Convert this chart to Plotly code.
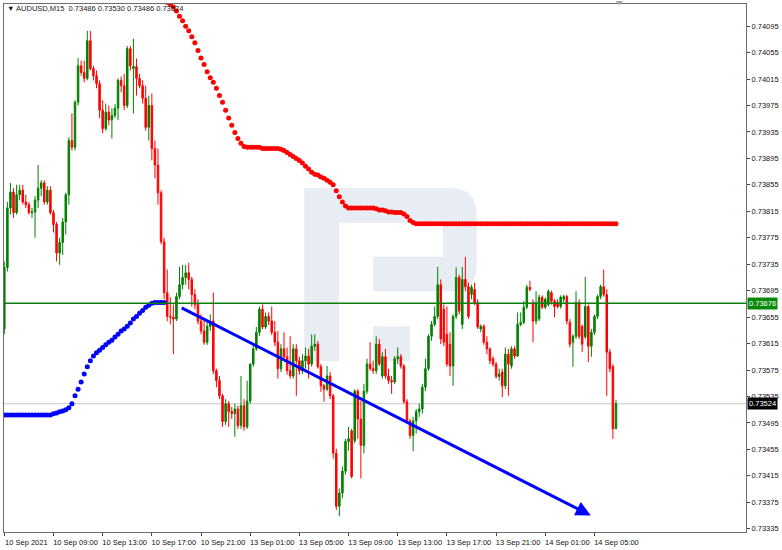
import plotly.graph_objects as go

# ---------------- data ----------------
bar_open = [
    0.73637, 0.73730, 0.73820, 0.73844, 0.73813, 0.73840, 0.73847, 0.73829, 0.73825, 0.73813,
    0.73814, 0.73832, 0.73850, 0.73858, 0.73829, 0.73847, 0.73813, 0.73795, 0.73752, 0.73768,
    0.73799, 0.73840, 0.73922, 0.73912, 0.73980, 0.74035, 0.74025, 0.74016, 0.74073, 0.74031,
    0.74020, 0.74008, 0.73968, 0.73940, 0.73965, 0.73953, 0.73960, 0.73971, 0.74013, 0.74005,
    0.73975, 0.74061, 0.74031, 0.74034, 0.74016, 0.74005, 0.73986, 0.73942, 0.73975, 0.73910,
    0.73885, 0.73843, 0.73769, 0.73692, 0.73656, 0.73655, 0.73652, 0.73686, 0.73704, 0.73715,
    0.73722, 0.73712, 0.73689, 0.73674, 0.73649, 0.73634, 0.73617, 0.73641, 0.73649, 0.73574,
    0.73559, 0.73536, 0.73497, 0.73524, 0.73512, 0.73509, 0.73516, 0.73491, 0.73521, 0.73489,
    0.73528, 0.73584, 0.73607, 0.73632, 0.73667, 0.73640, 0.73656, 0.73649, 0.73632, 0.73617,
    0.73577, 0.73607, 0.73595, 0.73574, 0.73566, 0.73607, 0.73589, 0.73574, 0.73589, 0.73596,
    0.73584, 0.73611, 0.73614, 0.73580, 0.73551, 0.73546, 0.73566, 0.73536, 0.73449, 0.73369,
    0.73389, 0.73422, 0.73467, 0.73483, 0.73468, 0.73543, 0.73501, 0.73461, 0.73543, 0.73584,
    0.73577, 0.73574, 0.73614, 0.73566, 0.73595, 0.73566, 0.73559, 0.73557, 0.73592, 0.73595,
    0.73581, 0.73527, 0.73498, 0.73476, 0.73498, 0.73512, 0.73516, 0.73549, 0.73577, 0.73626,
    0.73644, 0.73656, 0.73704, 0.73667, 0.73629, 0.73614, 0.73581, 0.73656, 0.73715, 0.73644,
    0.73712, 0.73701, 0.73689, 0.73697, 0.73677, 0.73637, 0.73641, 0.73617, 0.73607, 0.73592,
    0.73584, 0.73565, 0.73572, 0.73551, 0.73599, 0.73581, 0.73607, 0.73596, 0.73644, 0.73647,
    0.73670, 0.73700, 0.73677, 0.73649, 0.73652, 0.73685, 0.73670, 0.73674, 0.73692, 0.73679,
    0.73677, 0.73671, 0.73682, 0.73686, 0.73647, 0.73617, 0.73626, 0.73677, 0.73641, 0.73625,
    0.73671, 0.73611, 0.73632, 0.73656, 0.73686, 0.73701, 0.73689, 0.73602, 0.73580, 0.73486,
]
bar_high = [
    0.73739, 0.73829, 0.73858, 0.73850, 0.73855, 0.73855, 0.73855, 0.73840, 0.73829, 0.73820,
    0.73838, 0.73885, 0.73862, 0.73862, 0.73853, 0.73853, 0.73817, 0.73799, 0.73775, 0.73805,
    0.73843, 0.73927, 0.73963, 0.73983, 0.74047, 0.74043, 0.74043, 0.74088, 0.74088, 0.74035,
    0.74028, 0.74013, 0.73983, 0.73978, 0.73975, 0.73971, 0.73977, 0.74016, 0.74019, 0.74023,
    0.74065, 0.74065, 0.74076, 0.74046, 0.74023, 0.74013, 0.74005, 0.73990, 0.73993, 0.73922,
    0.73910, 0.73847, 0.73775, 0.73727, 0.73685, 0.73674, 0.73692, 0.73731, 0.73734, 0.73734,
    0.73737, 0.73716, 0.73697, 0.73682, 0.73659, 0.73649, 0.73649, 0.73659, 0.73692, 0.73577,
    0.73566, 0.73539, 0.73531, 0.73528, 0.73519, 0.73524, 0.73521, 0.73566, 0.73531, 0.73559,
    0.73584, 0.73614, 0.73640, 0.73671, 0.73674, 0.73662, 0.73662, 0.73671, 0.73649, 0.73634,
    0.73614, 0.73632, 0.73609, 0.73626, 0.73614, 0.73614, 0.73595, 0.73599, 0.73609, 0.73607,
    0.73629, 0.73629, 0.73619, 0.73584, 0.73554, 0.73581, 0.73572, 0.73539, 0.73456, 0.73396,
    0.73429, 0.73471, 0.73489, 0.73486, 0.73546, 0.73546, 0.73528, 0.73554, 0.73592, 0.73617,
    0.73589, 0.73626, 0.73622, 0.73602, 0.73607, 0.73577, 0.73566, 0.73596, 0.73609, 0.73599,
    0.73584, 0.73531, 0.73501, 0.73504, 0.73516, 0.73524, 0.73554, 0.73592, 0.73629, 0.73649,
    0.73671, 0.73731, 0.73712, 0.73674, 0.73671, 0.73632, 0.73659, 0.73730, 0.73719, 0.73731,
    0.73746, 0.73707, 0.73704, 0.73707, 0.73682, 0.73644, 0.73644, 0.73626, 0.73609, 0.73596,
    0.73587, 0.73577, 0.73577, 0.73609, 0.73607, 0.73611, 0.73611, 0.73662, 0.73662, 0.73679,
    0.73704, 0.73710, 0.73682, 0.73694, 0.73689, 0.73688, 0.73685, 0.73697, 0.73695, 0.73682,
    0.73682, 0.73688, 0.73689, 0.73689, 0.73652, 0.73629, 0.73694, 0.73682, 0.73644, 0.73716,
    0.73674, 0.73637, 0.73659, 0.73689, 0.73704, 0.73727, 0.73697, 0.73607, 0.73584, 0.73530,
]
bar_low = [
    0.73629, 0.73724, 0.73810, 0.73805, 0.73810, 0.73832, 0.73825, 0.73820, 0.73810, 0.73805,
    0.73775, 0.73820, 0.73838, 0.73825, 0.73825, 0.73810, 0.73783, 0.73739, 0.73734, 0.73749,
    0.73780, 0.73825, 0.73907, 0.73907, 0.73975, 0.74020, 0.74010, 0.74013, 0.74028, 0.74013,
    0.74001, 0.73956, 0.73933, 0.73937, 0.73945, 0.73925, 0.73956, 0.73953, 0.73995, 0.73968,
    0.73971, 0.74028, 0.73963, 0.73990, 0.74001, 0.73978, 0.73937, 0.73922, 0.73892, 0.73865,
    0.73825, 0.73765, 0.73682, 0.73649, 0.73644, 0.73599, 0.73649, 0.73682, 0.73697, 0.73704,
    0.73697, 0.73671, 0.73667, 0.73644, 0.73629, 0.73613, 0.73613, 0.73634, 0.73569, 0.73549,
    0.73531, 0.73489, 0.73492, 0.73489, 0.73501, 0.73474, 0.73486, 0.73486, 0.73483, 0.73486,
    0.73524, 0.73580, 0.73604, 0.73626, 0.73637, 0.73637, 0.73643, 0.73628, 0.73611, 0.73562,
    0.73572, 0.73589, 0.73568, 0.73562, 0.73562, 0.73536, 0.73568, 0.73569, 0.73577, 0.73562,
    0.73580, 0.73604, 0.73577, 0.73542, 0.73527, 0.73543, 0.73531, 0.73441, 0.73363, 0.73354,
    0.73381, 0.73417, 0.73453, 0.73411, 0.73464, 0.73471, 0.73411, 0.73449, 0.73539, 0.73574,
    0.73569, 0.73569, 0.73581, 0.73562, 0.73562, 0.73554, 0.73539, 0.73554, 0.73584, 0.73577,
    0.73524, 0.73494, 0.73471, 0.73452, 0.73479, 0.73504, 0.73509, 0.73543, 0.73574, 0.73619,
    0.73641, 0.73652, 0.73614, 0.73611, 0.73580, 0.73566, 0.73551, 0.73652, 0.73659, 0.73637,
    0.73694, 0.73652, 0.73682, 0.73673, 0.73637, 0.73632, 0.73613, 0.73599, 0.73584, 0.73580,
    0.73562, 0.73559, 0.73534, 0.73546, 0.73536, 0.73577, 0.73592, 0.73595, 0.73641, 0.73644,
    0.73667, 0.73694, 0.73617, 0.73644, 0.73649, 0.73667, 0.73667, 0.73671, 0.73674, 0.73655,
    0.73668, 0.73668, 0.73677, 0.73644, 0.73609, 0.73580, 0.73622, 0.73622, 0.73602, 0.73622,
    0.73587, 0.73595, 0.73628, 0.73652, 0.73682, 0.73686, 0.73536, 0.73572, 0.73471, 0.73486,
]
bar_close = [
    0.73730, 0.73820, 0.73844, 0.73813, 0.73840, 0.73847, 0.73829, 0.73825, 0.73813, 0.73814,
    0.73832, 0.73850, 0.73858, 0.73829, 0.73847, 0.73813, 0.73795, 0.73752, 0.73768, 0.73799,
    0.73840, 0.73922, 0.73912, 0.73980, 0.74035, 0.74025, 0.74016, 0.74073, 0.74031, 0.74020,
    0.74008, 0.73968, 0.73940, 0.73965, 0.73953, 0.73960, 0.73971, 0.74013, 0.74005, 0.73975,
    0.74061, 0.74035, 0.74034, 0.74016, 0.74005, 0.73986, 0.73942, 0.73975, 0.73910, 0.73885,
    0.73843, 0.73769, 0.73692, 0.73656, 0.73655, 0.73652, 0.73686, 0.73704, 0.73715, 0.73722,
    0.73712, 0.73689, 0.73674, 0.73649, 0.73634, 0.73617, 0.73641, 0.73649, 0.73574, 0.73559,
    0.73536, 0.73497, 0.73524, 0.73512, 0.73509, 0.73516, 0.73491, 0.73521, 0.73489, 0.73528,
    0.73584, 0.73607, 0.73632, 0.73667, 0.73640, 0.73656, 0.73649, 0.73632, 0.73617, 0.73577,
    0.73607, 0.73595, 0.73574, 0.73566, 0.73607, 0.73589, 0.73574, 0.73589, 0.73596, 0.73584,
    0.73611, 0.73614, 0.73580, 0.73551, 0.73546, 0.73566, 0.73536, 0.73449, 0.73369, 0.73389,
    0.73422, 0.73467, 0.73471, 0.73414, 0.73543, 0.73501, 0.73461, 0.73543, 0.73584, 0.73577,
    0.73574, 0.73614, 0.73584, 0.73595, 0.73566, 0.73559, 0.73557, 0.73592, 0.73595, 0.73581,
    0.73527, 0.73498, 0.73476, 0.73498, 0.73512, 0.73516, 0.73549, 0.73577, 0.73626, 0.73644,
    0.73656, 0.73704, 0.73622, 0.73617, 0.73584, 0.73581, 0.73656, 0.73715, 0.73664, 0.73712,
    0.73701, 0.73656, 0.73700, 0.73677, 0.73640, 0.73641, 0.73617, 0.73607, 0.73589, 0.73584,
    0.73565, 0.73569, 0.73551, 0.73599, 0.73584, 0.73607, 0.73596, 0.73644, 0.73647, 0.73670,
    0.73700, 0.73697, 0.73649, 0.73677, 0.73685, 0.73670, 0.73682, 0.73694, 0.73679, 0.73671,
    0.73671, 0.73685, 0.73686, 0.73649, 0.73614, 0.73626, 0.73677, 0.73626, 0.73614, 0.73671,
    0.73611, 0.73632, 0.73656, 0.73686, 0.73701, 0.73689, 0.73602, 0.73577, 0.73486, 0.73524,
]

# blue dotted indicator, bars 0..52
blue_dot_start = 0
blue_dots = [
    0.73507, 0.73507, 0.73507, 0.73507, 0.73507, 0.73507, 0.73507, 0.73507,
    0.73507, 0.73507, 0.73507, 0.73507, 0.73507, 0.73507, 0.73507, 0.73507,
    0.73509, 0.73510, 0.73512, 0.73513, 0.73515, 0.73518, 0.73524, 0.73536, 0.73546, 0.73557,
    0.73569, 0.73580, 0.73589, 0.73596, 0.73601, 0.73605, 0.73609, 0.73613, 0.73617, 0.73620,
    0.73625, 0.73629, 0.73634, 0.73637, 0.73641, 0.73646, 0.73652, 0.73656, 0.73661, 0.73665,
    0.73670, 0.73673, 0.73676, 0.73677, 0.73677, 0.73677, 0.73677,
]

# red dotted indicator, bars 53..199
red_dot_start = 53
red_dots = [
    0.74131, 0.74128, 0.74124, 0.74118, 0.74110, 0.74103, 0.74095, 0.74088, 0.74079, 0.74070,
    0.74058, 0.74047, 0.74037, 0.74026, 0.74017, 0.74010, 0.74001, 0.73990, 0.73980, 0.73968,
    0.73956, 0.73945, 0.73934, 0.73925, 0.73918, 0.73913, 0.73912, 0.73912, 0.73912, 0.73912,
    0.73912, 0.73910, 0.73910, 0.73910, 0.73910, 0.73910, 0.73910, 0.73909, 0.73907, 0.73904,
    0.73901, 0.73898, 0.73895, 0.73892, 0.73888, 0.73883, 0.73879, 0.73874, 0.73871, 0.73870,
    0.73867, 0.73865, 0.73862, 0.73859, 0.73855, 0.73846, 0.73837, 0.73829, 0.73823, 0.73820,
    0.73820, 0.73820, 0.73820, 0.73820, 0.73820, 0.73820, 0.73820, 0.73820,
    0.73819, 0.73817, 0.73817, 0.73816, 0.73814, 0.73814, 0.73813, 0.73813, 0.73813, 0.73811,
    0.73807, 0.73801, 0.73798,
    0.73796, 0.73796, 0.73796, 0.73796, 0.73796, 0.73796, 0.73796, 0.73796, 0.73796, 0.73796,
    0.73796, 0.73796, 0.73796, 0.73796, 0.73796, 0.73796, 0.73796, 0.73796, 0.73796, 0.73796,
    0.73796, 0.73796, 0.73796, 0.73796, 0.73796, 0.73796, 0.73796, 0.73796, 0.73796, 0.73796,
    0.73796, 0.73796, 0.73796, 0.73796, 0.73796, 0.73796, 0.73796, 0.73796, 0.73796, 0.73796,
    0.73796, 0.73796, 0.73796, 0.73796, 0.73796, 0.73796, 0.73796, 0.73796, 0.73796, 0.73796,
    0.73796, 0.73796, 0.73796, 0.73796, 0.73796, 0.73796, 0.73796, 0.73796, 0.73796, 0.73796,
    0.73796, 0.73796, 0.73796, 0.73796, 0.73796, 0.73796,
]

# trend line (bar position, price): start -> arrow tip
trend_bars = [57.2, 190.8]
trend_prices = [0.73670, 0.73355]

level_price = 0.73676   # green horizontal line
bid_price = 0.73524     # current bid line

x_tick_bars = [0, 16, 32, 48, 64, 80, 96, 112, 128, 144, 160, 176, 192]
x_tick_labels = ["10 Sep 2021", "10 Sep 09:00", "10 Sep 13:00", "10 Sep 17:00",
                 "10 Sep 21:00", "13 Sep 01:00", "13 Sep 05:00", "13 Sep 09:00",
                 "13 Sep 13:00", "13 Sep 17:00", "13 Sep 21:00", "14 Sep 01:00",
                 "14 Sep 05:00"]
y_tick_values = [0.74095, 0.74055, 0.74015, 0.73975, 0.73935, 0.73895, 0.73855,
                 0.73815, 0.73775, 0.73735, 0.73695, 0.73655, 0.73615, 0.73575,
                 0.73535, 0.73495, 0.73455, 0.73415, 0.73375, 0.73335]
title_text = "\u25BC AUDUSD,M15\u00a0\u00a00.73486 0.73530 0.73486 0.73524"

# ---------------- figure ----------------
W, H = 782, 550
ML, MR, MT, MB = 3, 35, 3, 16
PW, PH = W - ML - MR, H - MT - MB
FONT = "Liberation Sans, Arial, sans-serif"

def px(x):
    return (x - ML) / PW

def py(y):
    return (H - MB - y) / PH

bars = list(range(len(bar_close)))

fig = go.Figure()

# watermark logo (decoration)
logo_col = "#E8ECF3"
logo_path = (
    f"M {px(304)},{py(188)} L {px(450)},{py(188)} "
    f"Q {px(477)},{py(188)} {px(477)},{py(215)} L {px(477)},{py(265)} "
    f"Q {px(477)},{py(292)} {px(450)},{py(292)} L {px(373)},{py(292)} "
    f"L {px(373)},{py(257)} L {px(443)},{py(257)} L {px(443)},{py(223)} "
    f"L {px(339)},{py(223)} L {px(339)},{py(362)} L {px(304)},{py(362)} Z"
)
shapes = [
    dict(type="path", xref="paper", yref="paper", path=logo_path,
         fillcolor=logo_col, line=dict(width=0), layer="below"),
    dict(type="rect", xref="paper", yref="paper", x0=px(373), x1=px(410),
         y0=py(362), y1=py(327), fillcolor=logo_col, line=dict(width=0), layer="below"),
    dict(type="line", xref="paper", yref="y", x0=0, x1=1, y0=bid_price, y1=bid_price,
         line=dict(color="#c8c8c8", width=1), layer="below"),
    dict(type="line", xref="paper", yref="y", x0=0, x1=1, y0=level_price, y1=level_price,
         line=dict(color="#0a7d0a", width=1.6)),
    dict(type="path", xref="paper", yref="paper",
         path=f"M {px(616)},{py(0)} L {px(624)},{py(0)} L {px(620)},{py(4)} Z",
         fillcolor="#a8a8a8", line=dict(width=0)),
]

fig.add_trace(go.Candlestick(
    x=bars, open=bar_open, high=bar_high, low=bar_low, close=bar_close,
    increasing=dict(line=dict(color="#008000", width=1), fillcolor="#008000"),
    decreasing=dict(line=dict(color="#ff0000", width=1), fillcolor="#ff0000"),
    whiskerwidth=0, showlegend=False, hoverinfo="skip",
))

fig.add_trace(go.Scatter(
    x=[blue_dot_start + k for k in range(len(blue_dots))], y=blue_dots,
    mode="markers", marker=dict(color="#0000ff", size=5), showlegend=False,
    hoverinfo="skip",
))
fig.add_trace(go.Scatter(
    x=[red_dot_start + k for k in range(len(red_dots))], y=red_dots,
    mode="markers", marker=dict(color="#ff0000", size=5), showlegend=False,
    hoverinfo="skip",
))

annotations = [
    dict(x=trend_bars[1], y=trend_prices[1], ax=trend_bars[0], ay=trend_prices[0],
         xref="x", yref="y", axref="x", ayref="y", text="", showarrow=True,
         arrowhead=2, arrowsize=1, arrowwidth=3, arrowcolor="#0000ff"),
    dict(x=px(4), y=py(8), xref="paper", yref="paper", xanchor="left",
         yanchor="middle", text=title_text, showarrow=False,
         font=dict(family=FONT, size=7.5, color="#1a1a1a")),
    dict(x=1, y=level_price, xref="paper", yref="y", xanchor="left", yanchor="middle",
         xshift=1, text=f"{level_price:.5f}", showarrow=False, bgcolor="#0a8a0a",
         borderpad=1, font=dict(family=FONT, size=7.5, color="white")),
    dict(x=1, y=bid_price, xref="paper", yref="y", xanchor="left", yanchor="middle",
         xshift=1, text=f"{bid_price:.5f}", showarrow=False, bgcolor="#000000",
         borderpad=1, font=dict(family=FONT, size=7.5, color="white")),
]

axis_common = dict(showgrid=False, zeroline=False, showline=True, linecolor="#6e6e6e",
                   linewidth=1, mirror=True, ticks="outside", ticklen=3,
                   tickcolor="#444", tickfont=dict(family=FONT, size=7.5, color="#111"))

fig.update_layout(
    width=W, height=H,
    margin=dict(l=ML, r=MR, t=MT, b=MB, pad=0),
    paper_bgcolor="white", plot_bgcolor="white",
    shapes=shapes, annotations=annotations,
    xaxis=dict(range=[-0.1, 241.3], tickmode="array", tickvals=x_tick_bars,
               ticktext=x_tick_labels, ticklabelshift=22,
               rangeslider=dict(visible=False), **axis_common),
    yaxis=dict(range=[0.73330, 0.741285], side="right", tickmode="array",
               tickvals=y_tick_values, tickformat=".5f", **axis_common),
    showlegend=False,
)

fig.write_html("out.html", config={"displayModeBar": False},
               post_script="document.body.style.margin='0px';document.body.style.padding='0px';")
